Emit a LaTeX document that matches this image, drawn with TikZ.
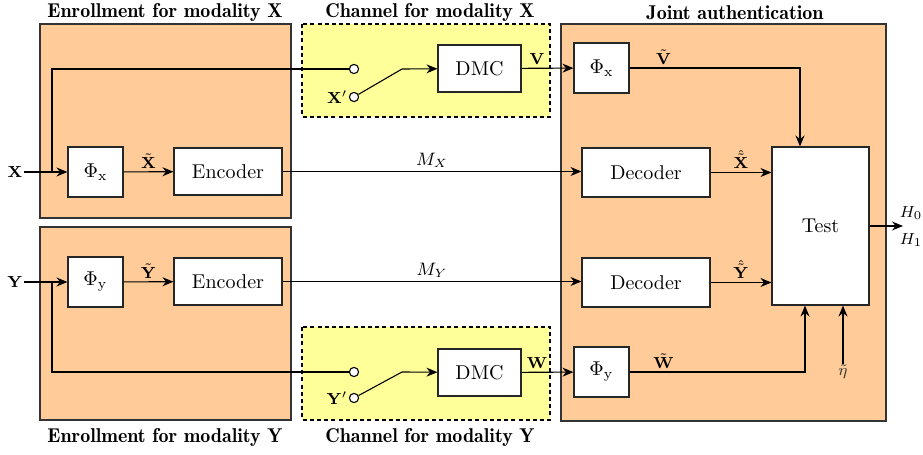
\documentclass[tikz,border=0pt]{standalone}
\usetikzlibrary{arrows.meta}
\definecolor{peach}{RGB}{255,204,153}
\definecolor{paleyellow}{RGB}{255,255,153}
\begin{document}
\begin{tikzpicture}[x=0.5pt,y=-0.5pt,
  line width=0.55pt,
  arr/.style={-{Stealth[length=5.5pt,width=4.5pt]}},
  region/.style={draw=black!80,fill=peach,line width=0.6pt},
  chan/.style={draw=black,fill=paleyellow,dash pattern=on 2pt off 1.6pt,line width=0.55pt},
  blk/.style={draw=black!85,fill=white,inner sep=0pt,font=\normalsize},
  title/.style={font=\fontseries{b}\selectfont\normalsize,inner sep=0pt},
  lbl/.style={font=\footnotesize,inner sep=0.5pt},
  sw/.style={circle,draw,fill=white,minimum size=4.6pt,inner sep=0pt,line width=0.55pt}]
\useasboundingbox (0,0) rectangle (923,455);

% regions
\draw[region] (40,24) rectangle (291,218);
\draw[region] (40,227) rectangle (291,420);
\draw[chan] (302,24) rectangle (550,117);
\draw[chan] (302,327) rectangle (550,420);
\draw[region] (561,24) rectangle (886,421);

% region titles
\node[title] (tex) at (165,13) {Enrollment for modality X};
\node[title] (tcx) at (430,13) {Channel for modality X};
\node[title] (tja) at (735,13) {Joint authentication};
\node[title] (tey) at (165,437) {Enrollment for modality Y};
\node[title] (tcy) at (430,437) {Channel for modality Y};

% blocks
\node[blk,minimum width=27.5pt,minimum height=25pt] (phix1) at (95.5,172) {$\Phi_{\mathrm{x}}$};
\node[blk,minimum width=54pt,minimum height=23.5pt] (encx) at (228,171.5) {Encoder};
\node[blk,minimum width=27.5pt,minimum height=25pt] (phiy1) at (95.5,282) {$\Phi_{\mathrm{y}}$};
\node[blk,minimum width=54pt,minimum height=23.5pt] (ency) at (228,281.5) {Encoder};
\node[blk,minimum width=41.5pt,minimum height=23.5pt] (dmcx) at (479.5,68.5) {DMC};
\node[blk,minimum width=41.5pt,minimum height=23.5pt] (dmcy) at (479.5,372.5) {DMC};
\node[blk,minimum width=27.5pt,minimum height=25pt] (phix2) at (601.5,68) {$\Phi_{\mathrm{x}}$};
\node[blk,minimum width=27.5pt,minimum height=25pt] (phiy2) at (601.5,372) {$\Phi_{\mathrm{y}}$};
\node[blk,minimum width=64pt,minimum height=24.5pt] (decx) at (646,172.5) {Decoder};
\node[blk,minimum width=64pt,minimum height=24.5pt] (decy) at (646,282.5) {Decoder};
\node[blk,minimum width=48.5pt,minimum height=79pt] (test) at (820.5,226) {Test};

% switches
\node[sw] (swx1) at (354,69) {};
\node[sw] (swx2) at (354,97) {};
\node[sw] (swy1) at (354,372) {};
\node[sw] (swy2) at (354,398) {};
\node[lbl,left] (xp) at (swx2.west) {$\mathbf{X}'$};
\node[lbl,left] (yp) at (swy2.west) {$\mathbf{Y}'$};
\coordinate (lvx) at (402,69);
\coordinate (lvy) at (402,372);

% inputs
\node[lbl] (xin) at (15,172) {$\mathbf{X}$};
\node[lbl] (yin) at (15,282) {$\mathbf{Y}$};
\coordinate (bx) at (52,172);
\coordinate (by) at (52,282);

% enrollment paths
\draw[arr] (xin) -- (phix1);
\draw[arr] (phix1) -- node[lbl,above=1pt] {$\tilde{\mathbf{X}}$} (encx);
\draw (bx) |- (swx1);
\draw[arr] (yin) -- (phiy1);
\draw[arr] (phiy1) -- node[lbl,above=1pt] {$\tilde{\mathbf{Y}}$} (ency);
\draw (by) |- (swy1);

% channels
\draw (swx2) -- (lvx);
\draw[arr] (lvx) -- (dmcx);
\draw (swy2) -- (lvy);
\draw[arr] (lvy) -- (dmcy);
\draw[arr] (dmcx) -- node[lbl,above=1pt,pos=0.3] {$\mathbf{V}$} (phix2);
\draw[arr] (dmcy) -- node[lbl,above=1pt,pos=0.3] {$\mathbf{W}$} (phiy2);

% helper messages
\draw[arr] (encx.east) -- node[lbl,above=1pt,font=\small] {$M_X$} (decx.west |- encx.east);
\draw[arr] (ency.east) -- node[lbl,above=1pt,font=\small] {$M_Y$} (decy.west |- ency.east);

% joint authentication
\coordinate (tvx) at (800,0);
\coordinate (twx) at (805,0);
\draw[arr] (phix2.east) -| node[lbl,above=1pt,pos=0.1] {$\tilde{\mathbf{V}}$} (tvx |- test.north);
\draw[arr] (phiy2.east) -| node[lbl,above=1pt,pos=0.097] {$\tilde{\mathbf{W}}$} (twx |- test.south);
\draw[arr] (decx.east) -- node[lbl,above=1pt] {$\hat{\tilde{\mathbf{X}}}$} (test.west |- decx.east);
\draw[arr] (decy.east) -- node[lbl,above=1pt] {$\hat{\tilde{\mathbf{Y}}}$} (test.west |- decy.east);
\node[lbl,text=black!80] (eta) at (843,372) {$\tilde{\eta}$};
\draw[arr] (eta.north) -- (eta.north |- test.south);

% decision
\coordinate (out) at (903,226);
\draw[arr] (test.east) -- (out);
\node[lbl] (h0) at (911,213) {$H_0$};
\node[lbl] (h1) at (911,240) {$H_1$};
\end{tikzpicture}
\end{document}
